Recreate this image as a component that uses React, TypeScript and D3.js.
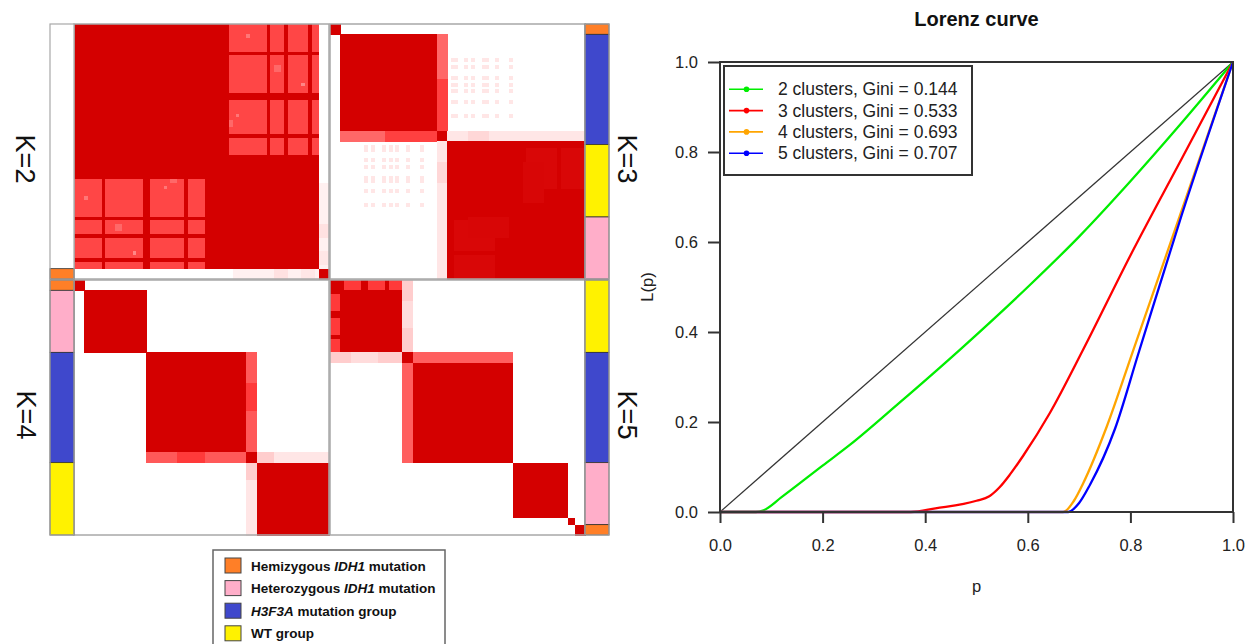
import React, { useEffect, useRef } from 'react';
import * as d3 from 'd3';

// ---------- consensus heatmaps ----------
const nSamples = 74;

const groupColor: Record<string, string> = {
  hemi: '#ff7f27',
  hetero: '#ffaec9',
  h3f3a: '#3f48cc',
  wt: '#fff200',
  none: '#ffffff',
};

// sidebar annotation for each panel: [group, number of samples], top to bottom
const sideK2: [string, number][] = [['none', 71], ['hemi', 3]];
const sideK3: [string, number][] = [['hemi', 3], ['h3f3a', 32], ['wt', 21], ['hetero', 18]];
const sideK4: [string, number][] = [['hemi', 3], ['hetero', 18], ['h3f3a', 32], ['wt', 21]];
const sideK5: [string, number][] = [['wt', 21], ['h3f3a', 32], ['hetero', 18], ['hemi', 3]];

// consensus blocks: [rowFrom, rowTo, colFrom, colTo, value] (mirrored)
const blocksK2 = [
  [0, 71, 0, 71, 0.66],
  [0, 41, 0, 41, 1],
  [41, 71, 41, 71, 1],
  [71, 74, 71, 74, 1],
  [46, 71, 71, 74, 0.06],
  [58, 62, 71, 74, 0.12],
  [66, 70, 71, 74, 0.1],
];
// samples of the first / second sub-cluster that stay dark across both
const stableRowsK2 = [8, 20, 21, 32, 38, 39, 40];
const stableColsK2 = [41, 42, 43, 44, 56, 61, 68];
const spotsK2 = [
  [17, 18, 66, 67, 0.45],
  [3, 4, 50, 51, 0.5],
  [26, 27, 47, 48, 0.5],
  [12, 14, 58, 60, 0.55],
  [28, 30, 45, 46, 0.55],
];

const blocksK3 = [
  [0, 3, 0, 3, 1],
  [3, 31, 3, 31, 1],
  [31, 34, 31, 34, 1],
  [3, 16, 31, 34, 0.55],
  [16, 31, 31, 34, 0.68],
  [34, 74, 34, 74, 1],
  [36, 48, 57, 66, 0.965],
  [36, 48, 67, 74, 0.965],
  [40, 52, 56, 62, 0.97],
  [31, 34, 34, 74, 0.1],
  [31, 34, 40, 46, 0.16],
];
const speckRowsK3 = [10, 12, 15, 17, 19, 22, 26];
const speckColsK3 = [35, 36, 39, 41, 44, 45, 48, 52];

const blocksK4 = [
  [0, 3, 0, 3, 1],
  [3, 21, 3, 21, 1],
  [21, 50, 21, 50, 1],
  [50, 53, 50, 53, 1],
  [21, 50, 50, 53, 0.6],
  [30, 38, 50, 53, 0.7],
  [53, 74, 53, 74, 1],
  [50, 53, 53, 74, 0.1],
  [50, 53, 53, 58, 0.2],
];

const blocksK5 = [
  [0, 21, 0, 21, 1],
  [0, 3, 4, 21, 0.7],
  [0, 3, 9, 11, 1],
  [0, 3, 16, 17, 1],
  [21, 24, 21, 24, 1],
  [0, 21, 21, 24, 0.2],
  [6, 14, 21, 24, 0.14],
  [21, 24, 24, 53, 0.58],
  [24, 53, 24, 53, 1],
  [53, 69, 53, 69, 1],
  [69, 71, 69, 71, 1],
  [71, 74, 71, 74, 1],
];

const legendGroups = ['hemi', 'hetero', 'h3f3a', 'wt'];
const legendLabels: [string, string, string][] = [
  ['Hemizygous ', 'IDH1', ' mutation'],
  ['Heterozygous ', 'IDH1', ' mutation'],
  ['', 'H3F3A', ' mutation group'],
  ['WT group', '', ''],
];

// ---------- Lorenz curves ----------
const clusterCounts = [2, 3, 4, 5];
const giniValues = [0.144, 0.533, 0.693, 0.707];
const curveColors = ['#00ee00', '#ff0000', '#ffa500', '#0000ff'];

const pGreen = [0, 0.07, 0.085, 0.12, 0.2, 0.253, 0.35, 0.468, 0.6, 0.7, 0.8, 0.9, 1];
const lGreen = [0, 0, 0.004, 0.033, 0.103, 0.149, 0.243, 0.361, 0.5, 0.612, 0.735, 0.865, 1];
const pRed = [0, 0.372, 0.42, 0.5, 0.525, 0.545, 0.565, 0.591, 0.643, 0.708, 0.8, 0.9, 1];
const lRed = [0, 0, 0.008, 0.025, 0.035, 0.055, 0.083, 0.125, 0.22, 0.361, 0.57, 0.785, 1];
const pOrange = [0, 0.669, 0.69, 0.708, 0.754, 0.806, 0.9, 1];
const lOrange = [0, 0, 0.025, 0.064, 0.19, 0.361, 0.67, 1];
const pBlue = [0, 0.679, 0.7, 0.721, 0.77, 0.815, 0.9, 1];
const lBlue = [0, 0, 0.02, 0.06, 0.185, 0.35, 0.66, 1];

const xTicks = [0, 0.2, 0.4, 0.6, 0.8, 1];
const yTicks = [0, 0.2, 0.4, 0.6, 0.8, 1];

const font = '"Liberation Sans", Arial, sans-serif';

function buildMatrix(blocks: number[][]) {
  const m = Array.from({ length: nSamples }, () => new Array(nSamples).fill(0));
  blocks.forEach(([r0, r1, c0, c1, v]) => {
    for (let i = r0; i < r1; i++) {
      for (let j = c0; j < c1; j++) {
        m[i][j] = v;
        m[j][i] = v;
      }
    }
  });
  return m;
}

const App = () => {
  const ref = useRef<SVGSVGElement>(null);

  useEffect(() => {
    const svg = d3.select(ref.current);
    svg.selectAll('*').remove();

    const color = d3.scaleLinear<string>()
      .domain([0, 0.3, 0.7, 1])
      .range(['#ffffff', '#ffb4b4', '#ff3a3a', '#d40000'])
      .clamp(true);

    const k2 = [
      ...blocksK2,
      ...stableRowsK2.map(r => [r, r + 1, 41, 71, 1]),
      ...stableColsK2.map(c => [0, 41, c, c + 1, 1]),
      ...spotsK2,
    ];
    const k3 = [...blocksK3];
    speckRowsK3.forEach(r => speckColsK3.forEach(c => k3.push([r, r + 1, c, c + 1, 0.1])));

    const size = 255;
    const panels = [
      { label: 'K=2', m: buildMatrix(k2), side: sideK2, x: 74, y: 24, sx: 50, lx: 25 },
      { label: 'K=3', m: buildMatrix(k3), side: sideK3, x: 330, y: 24, sx: 585, lx: 627 },
      { label: 'K=4', m: buildMatrix(blocksK4), side: sideK4, x: 74, y: 280, sx: 50, lx: 26 },
      { label: 'K=5', m: buildMatrix(blocksK5), side: sideK5, x: 330, y: 280, sx: 585, lx: 627 },
    ];

    panels.forEach(p => {
      const g = svg.append('g');
      const xs = d3.scaleBand<number>().domain(d3.range(nSamples)).range([p.x, p.x + size]);
      const ys = d3.scaleBand<number>().domain(d3.range(nSamples)).range([p.y, p.y + size]);
      const cells: { i: number; j: number; v: number }[] = [];
      p.m.forEach((row, i) => row.forEach((v, j) => { if (v > 0) cells.push({ i, j, v }); }));

      g.append('g')
        .attr('shape-rendering', 'crispEdges')
        .selectAll('rect')
        .data(cells)
        .enter().append('rect')
        .attr('x', d => xs(d.j)!)
        .attr('y', d => ys(d.i)!)
        .attr('width', xs.bandwidth() + 0.5)
        .attr('height', ys.bandwidth() + 0.5)
        .attr('fill', d => color(d.v));

      g.append('rect')
        .attr('x', p.x).attr('y', p.y).attr('width', size).attr('height', size)
        .attr('fill', 'none').attr('stroke', '#a8a8a8').attr('stroke-width', 1.5);

      // sidebar
      let start = 0;
      const segs = p.side.map(([grp, n]) => {
        const s = { grp, start, n };
        start += n;
        return s;
      });
      g.append('g')
        .selectAll('rect')
        .data(segs)
        .enter().append('rect')
        .attr('x', p.sx)
        .attr('y', d => ys(d.start)!)
        .attr('width', 24)
        .attr('height', d => d.n * ys.bandwidth())
        .attr('fill', d => groupColor[d.grp])
        .attr('stroke', d => (d.grp === 'none' ? 'none' : '#333'))
        .attr('stroke-width', 0.8);
      g.append('rect')
        .attr('x', p.sx).attr('y', p.y).attr('width', 24).attr('height', size)
        .attr('fill', 'none').attr('stroke', '#a8a8a8').attr('stroke-width', 1.2);

      g.append('text')
        .attr('transform', `translate(${p.lx},${p.y + 135}) rotate(90)`)
        .attr('text-anchor', 'middle')
        .attr('dominant-baseline', 'central')
        .attr('font-family', font)
        .attr('font-size', 27)
        .attr('fill', '#111')
        .text(p.label);
    });

    // group legend
    const lg = svg.append('g');
    lg.append('rect')
      .attr('x', 213).attr('y', 550).attr('width', 232).attr('height', 120)
      .attr('fill', '#fff').attr('stroke', '#666').attr('stroke-width', 1.5);
    legendGroups.forEach((grp, k) => {
      const cy = 565.5 + k * 22.6;
      lg.append('rect')
        .attr('x', 225).attr('y', cy - 7.5).attr('width', 16).attr('height', 15)
        .attr('fill', groupColor[grp]).attr('stroke', '#444').attr('stroke-width', 1);
      const t = lg.append('text')
        .attr('x', 251).attr('y', cy)
        .attr('dominant-baseline', 'central')
        .attr('font-family', font).attr('font-size', 13.5).attr('font-weight', 'bold')
        .attr('fill', '#111')
        .attr('xml:space', 'preserve');
      const [a, b, c] = legendLabels[k];
      if (a) t.append('tspan').text(a);
      if (b) t.append('tspan').attr('font-style', 'italic').text(b);
      if (c) t.append('tspan').text(c);
    });

    // ---------- Lorenz plot ----------
    const x = d3.scaleLinear().domain([0, 1]).range([720, 1233]);
    const y = d3.scaleLinear().domain([0, 1]).range([512, 62]);
    const lz = svg.append('g');

    lz.append('line')
      .attr('x1', x(0)).attr('y1', y(0)).attr('x2', x(1)).attr('y2', y(1))
      .attr('stroke', '#333').attr('stroke-width', 1.2);

    const series = [
      { p: pGreen, l: lGreen },
      { p: pRed, l: lRed },
      { p: pOrange, l: lOrange },
      { p: pBlue, l: lBlue },
    ];
    series.forEach((s, k) => {
      const line = d3.line<number>()
        .x(i => x(s.p[i]))
        .y(i => y(s.l[i]))
        .curve(d3.curveMonotoneX);
      lz.append('path')
        .attr('d', line(d3.range(s.p.length)))
        .attr('fill', 'none')
        .attr('stroke', curveColors[k])
        .attr('stroke-width', 2.3);
    });

    lz.append('rect')
      .attr('x', x(0)).attr('y', y(1)).attr('width', x(1) - x(0)).attr('height', y(0) - y(1))
      .attr('fill', 'none').attr('stroke', '#333').attr('stroke-width', 2);

    const xAxis = lz.append('g')
      .attr('transform', `translate(0,${y(0)})`)
      .call(d3.axisBottom(x).tickValues(xTicks).tickFormat(d3.format('.1f')).tickSize(11).tickPadding(16));
    const yAxis = lz.append('g')
      .attr('transform', `translate(${x(0)},0)`)
      .call(d3.axisLeft(y).tickValues(yTicks).tickFormat(d3.format('.1f')).tickSize(12).tickPadding(10));
    [xAxis, yAxis].forEach(ax => {
      ax.select('.domain').remove();
      ax.selectAll('line').attr('stroke', '#333').attr('stroke-width', 2);
      ax.selectAll('text').attr('font-family', font).attr('font-size', 16.5).attr('fill', '#222');
    });

    lz.append('text')
      .attr('x', (x(0) + x(1)) / 2).attr('y', 26)
      .attr('text-anchor', 'middle')
      .attr('font-family', font).attr('font-size', 20).attr('font-weight', 'bold')
      .attr('fill', '#111')
      .text('Lorenz curve');
    lz.append('text')
      .attr('x', (x(0) + x(1)) / 2).attr('y', 592)
      .attr('text-anchor', 'middle')
      .attr('font-family', font).attr('font-size', 16.5).attr('fill', '#222')
      .text('p');
    lz.append('text')
      .attr('transform', `translate(653,${(y(0) + y(1)) / 2}) rotate(-90)`)
      .attr('text-anchor', 'middle')
      .attr('font-family', font).attr('font-size', 16.5).attr('fill', '#222')
      .text('L(p)');

    // curve legend
    const leg = lz.append('g');
    leg.append('rect')
      .attr('x', 724).attr('y', 66).attr('width', 248).attr('height', 109)
      .attr('fill', '#fff').attr('stroke', '#333').attr('stroke-width', 2);
    clusterCounts.forEach((n, k) => {
      const cy = 89.3 + k * 21.3;
      leg.append('line')
        .attr('x1', 729).attr('x2', 763).attr('y1', cy).attr('y2', cy)
        .attr('stroke', curveColors[k]).attr('stroke-width', 1.6);
      leg.append('circle')
        .attr('cx', 746.5).attr('cy', cy).attr('r', 2.8)
        .attr('fill', curveColors[k]);
      leg.append('text')
        .attr('x', 778).attr('y', cy)
        .attr('dominant-baseline', 'central')
        .attr('font-family', font).attr('font-size', 17.5).attr('fill', '#222')
        .text(`${n} clusters, Gini = ${giniValues[k].toFixed(3)}`);
    });
  }, []);

  return (
    <svg
      ref={ref}
      width={1251}
      height={644}
      style={{ position: 'absolute', left: 0, top: 0, background: '#fff' }}
    />
  );
};

export default App;
